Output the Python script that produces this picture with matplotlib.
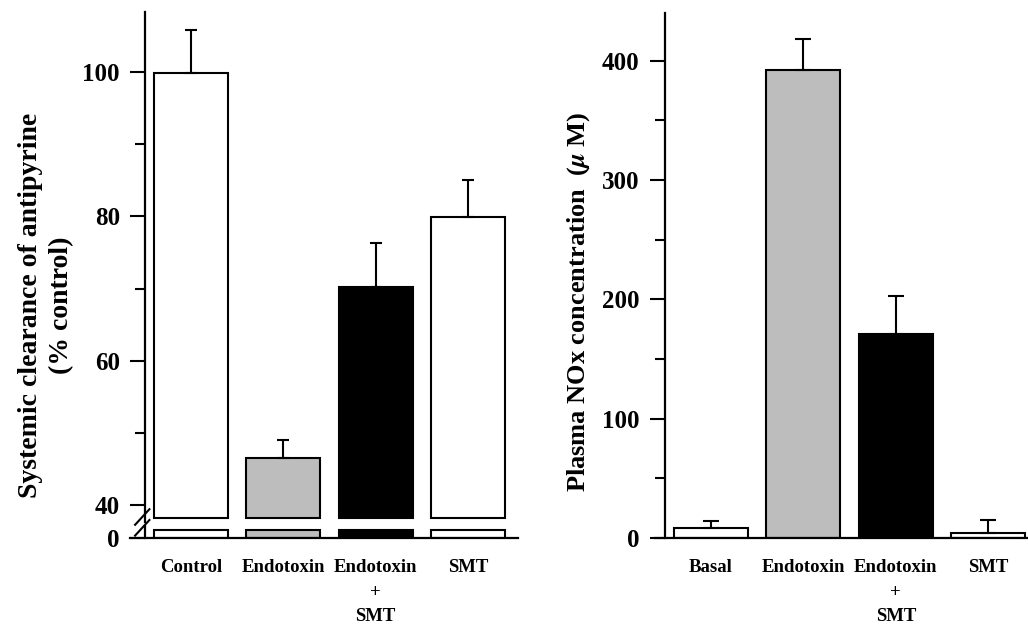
import matplotlib
matplotlib.use("Agg")
import matplotlib.pyplot as plt
import numpy as np

plt.rcParams["font.family"] = ["Liberation Serif", "DejaVu Serif"]
plt.rcParams["font.weight"] = "bold"
plt.rcParams["mathtext.fontset"] = "stix"

# left panel: antipyrine clearance (% control)
clear_labels = ["Control", "Endotoxin", "Endotoxin\n+\nSMT", "SMT"]
clear_mean = [99.8, 46.5, 70.2, 79.9]
clear_sem = [6.0, 2.5, 6.1, 5.1]

# right panel: plasma NOx (uM)
nox_labels = ["Basal", "Endotoxin", "Endotoxin\n+\nSMT", "SMT"]
nox_mean = [8, 392, 171, 4]
nox_sem = [6, 26, 32, 11]

fills = ["white", "#bdbdbd", "black", "white"]


def fig_frac(px_left, px_top, px_w, px_h):
    return [px_left / 1028, (628 - px_top - px_h) / 628, px_w / 1028, px_h / 628]


def style_spine(ax, frac):
    for s in ["top", "right"]:
        ax.spines[s].set_visible(False)
    ax.spines["left"].set_position(("axes", frac))
    ax.spines["left"].set_linewidth(1.6)
    ax.spines["bottom"].set_linewidth(1.6)
    ax.tick_params(axis="y", which="major", length=11, width=1.5, labelsize=18, pad=7)
    ax.tick_params(axis="y", which="minor", length=7, width=1.5)


fig = plt.figure(figsize=(10.28, 6.28), dpi=100)

# ---- left panel, broken axis ----
x = np.arange(len(clear_labels))
xlim = (-0.66, 3.54)
spine_frac = (-0.5 - xlim[0]) / (xlim[1] - xlim[0])
brk = 38.2

top = fig.add_axes(fig_frac(130, 12, 388, 510))
top.bar(x, np.array(clear_mean) - brk, bottom=brk, width=0.8, color=fills,
        edgecolor="black", linewidth=1.5)
top.errorbar(x, clear_mean, yerr=[np.zeros(4), clear_sem], fmt="none",
             ecolor="black", elinewidth=1.5, capsize=4.5, capthick=1.5)
top.set_xlim(*xlim)
top.set_ylim(37.7, 108.3)
top.set_yticks([40, 60, 80, 100])
top.set_yticks([50, 70, 90], minor=True)
style_spine(top, spine_frac)
top.spines["bottom"].set_visible(False)
top.set_xticks([])
top.set_ylabel("Systemic clearance of antipyrine\n(% control)", fontsize=20,
               fontweight="bold", linespacing=1.3)
top.yaxis.set_label_coords(-0.145, 0.425)

low = fig.add_axes(fig_frac(130, 526, 388, 12))
stub = 1.0
low.bar(x, np.minimum(clear_mean, stub), width=0.8, color=fills,
        edgecolor="black", linewidth=1.5)
low.set_xlim(*xlim)
low.set_ylim(0, 1.5)
low.set_yticks([0])
style_spine(low, spine_frac)
low.set_xticks(x, clear_labels, fontsize=13.5, linespacing=1.6)
low.tick_params(axis="x", length=0, pad=15)
# break marks
for dy in (0.0, 0.9):
    low.plot([spine_frac - 0.025, spine_frac + 0.012], [0.2 + dy, 1.5 + dy],
             transform=low.transAxes, color="black", lw=1.5, clip_on=False)

# ---- right panel ----
ax = fig.add_axes(fig_frac(655, 13, 373, 525))
xr = np.arange(len(nox_labels))
xlim_r = (-0.605, 3.43)
ax.bar(xr, nox_mean, width=0.8, color=fills, edgecolor="black", linewidth=1.5)
ax.errorbar(xr, nox_mean, yerr=[np.zeros(4), nox_sem], fmt="none",
            ecolor="black", elinewidth=1.5, capsize=5.5, capthick=1.5)
ax.set_xlim(*xlim_r)
ax.set_ylim(0, 440)
ax.set_yticks([0, 100, 200, 300, 400])
ax.set_yticks([50, 150, 250, 350], minor=True)
style_spine(ax, (-0.5 - xlim_r[0]) / (xlim_r[1] - xlim_r[0]))
ax.set_xticks(xr, nox_labels, fontsize=13.5, linespacing=1.6)
ax.tick_params(axis="x", length=0, pad=15)
ax.set_ylabel(r"Plasma NOx concentration  ($\mu$ M)", fontsize=19, fontweight="bold")
ax.yaxis.set_label_coords(-0.17, 0.45)

fig.savefig("out.png", dpi=100)
